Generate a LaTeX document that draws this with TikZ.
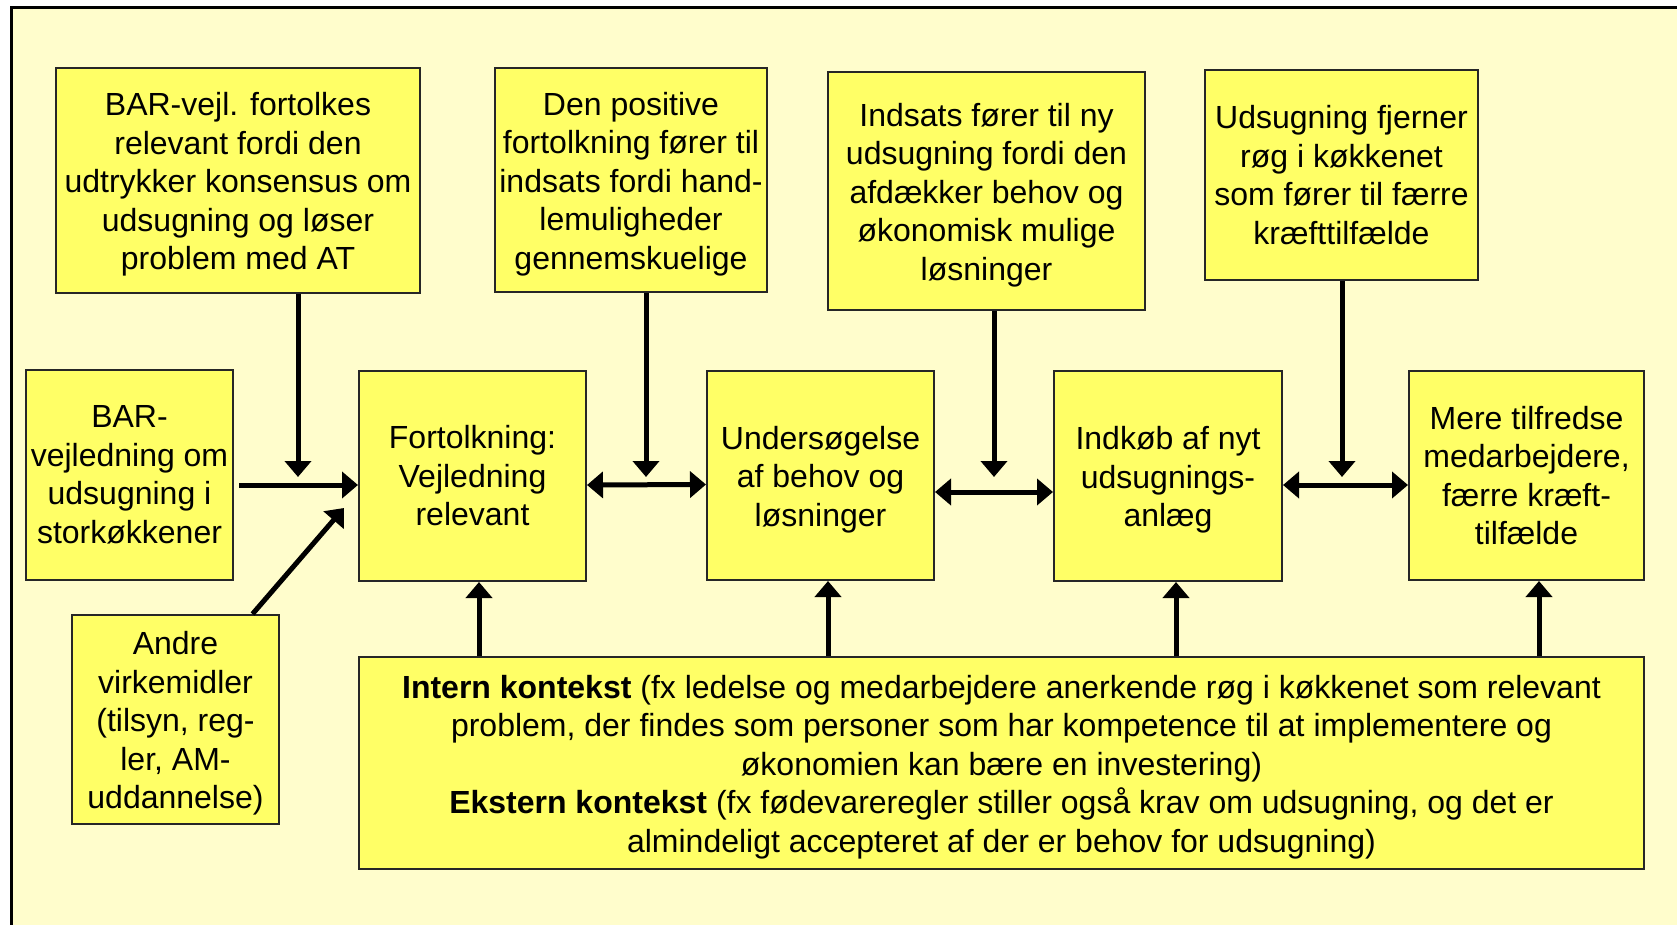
\documentclass[tikz,border=0pt]{standalone}
\usepackage{fontspec}
\setmainfont{Liberation Sans}
\usetikzlibrary{arrows.meta}
\definecolor{paleyellow}{HTML}{FFFDCC}
\definecolor{boxyellow}{HTML}{FFFF66}
\newcommand{\topstrut}{\rule{0pt}{31pt}}

\begin{document}
\begin{tikzpicture}[x=1pt, y=-1pt,
        box/.style={draw=black!85, line width=2pt, fill=boxyellow, align=center,
            inner sep=0pt, font=\fontsize{32}{38.5}\selectfont},
        arr/.style={line width=5pt, -{Triangle[length=16pt,width=26pt]}},
        darr/.style={line width=5pt, {Triangle[length=16pt,width=26pt]}-{Triangle[length=16pt,width=26pt]}}]
        % Frame
        \useasboundingbox (0,0) rectangle (1677,925);
        \fill[paleyellow] (11,8) rectangle (1677,925);
        \draw[line width=3pt] (11,925) -- (11,8) -- (1677,8);

        % Upper boxes
        \node[box, minimum width=364pt, minimum height=225pt] (barfort) at (238,180.5)
            {\topstrut BAR-vejl. fortolkes\\relevant fordi den\\udtrykker konsensus om\\udsugning og løser\\problem med AT};
        \node[box, minimum width=272pt, minimum height=224pt] (positiv) at (631,180)
            {\topstrut Den positive\\fortolkning fører til\\indsats fordi hand-\\lemuligheder\\gennemskuelige};
        \node[box, minimum width=317pt, minimum height=238pt] (indsats) at (986.5,191)
            {\topstrut Indsats fører til ny\\udsugning fordi den\\afdækker behov og\\økonomisk mulige\\løsninger};
        \node[box, minimum width=273pt, minimum height=210pt] (fjerner) at (1341.5,175)
            {Udsugning fjerner\\røg i køkkenet\\som fører til færre\\kræfttilfælde};

        % Middle row
        \node[box, minimum width=207pt, minimum height=210pt] (bar) at (129.5,475)
            {BAR-\\vejledning om\\udsugning i\\storkøkkener};
        \node[box, minimum width=227pt, minimum height=210pt] (fortolk) at (472.5,476)
            {Fortolkning:\\Vejledning\\relevant};
        \node[box, minimum width=227pt, minimum height=209pt] (under) at (820.5,475.5)
            {\topstrut Undersøgelse\\af behov og\\løsninger};
        \node[box, minimum width=228pt, minimum height=210pt] (indkob) at (1168,476)
            {\topstrut Indkøb af nyt\\udsugnings-\\anlæg};
        \node[box, minimum width=235pt, minimum height=209pt] (effekt) at (1526.5,475.5)
            {Mere tilfredse\\medarbejdere,\\færre kræft-\\tilfælde};

        % Lower boxes
        \node[box, minimum width=207pt, minimum height=209pt] (andre) at (175.5,719.5)
            {\topstrut Andre\\virkemidler\\(tilsyn, reg-\\ler, AM-\\uddannelse)};
        \node[box, minimum width=1285pt, minimum height=212pt] (kontekst) at (1001.5,763)
            {\topstrut\textbf{Intern kontekst} (fx ledelse og medarbejdere anerkende røg i køkkenet som relevant\\
             problem, der findes som personer som har kompetence til at implementere og\\
             økonomien kan bære en investering)\\
             \textbf{Ekstern kontekst} (fx fødevareregler stiller også krav om udsugning, og det er\\
             almindeligt accepteret af der er behov for udsugning)};

        % Free ends
        \coordinate (barfortEnd) at (298,477);
        \coordinate (positivEnd) at (646,477);
        \coordinate (indsatsEnd) at (994,477);
        \coordinate (fjernerEnd) at (1342,477);
        \coordinate (andreEnd) at (344,508);

        % Arrows
        \draw[arr] ([xshift=5pt,yshift=-10pt]bar.east) -- ([yshift=-9pt]fortolk.west);
        \draw[arr] (barfort.south -| barfortEnd) -- (barfortEnd);
        \draw[arr] ([xshift=77pt]andre.north) -- (andreEnd);
        \draw[darr] ([yshift=-9pt]fortolk.east) -- ([yshift=-9pt]under.west);
        \draw[arr] (positiv.south -| positivEnd) -- (positivEnd);
        \draw[darr] ([yshift=-16.5pt]under.east) -- ([yshift=-16pt]indkob.west);
        \draw[arr] (indsats.south -| indsatsEnd) -- (indsatsEnd);
        \draw[darr] ([yshift=-9pt]indkob.east) -- ([yshift=-9.5pt]effekt.west);
        \draw[arr] (fjerner.south -| fjernerEnd) -- (fjernerEnd);

        % Context
        \draw[arr] (kontekst.north -| 479,0) -- (fortolk.south -| 479,0);
        \draw[arr] (kontekst.north -| 828,0) -- (under.south -| 828,0);
        \draw[arr] (kontekst.north -| 1176,0) -- (indkob.south -| 1176,0);
        \draw[arr] (kontekst.north -| 1539,0) -- (effekt.south -| 1539,0);
    \end{tikzpicture}
\end{document}
